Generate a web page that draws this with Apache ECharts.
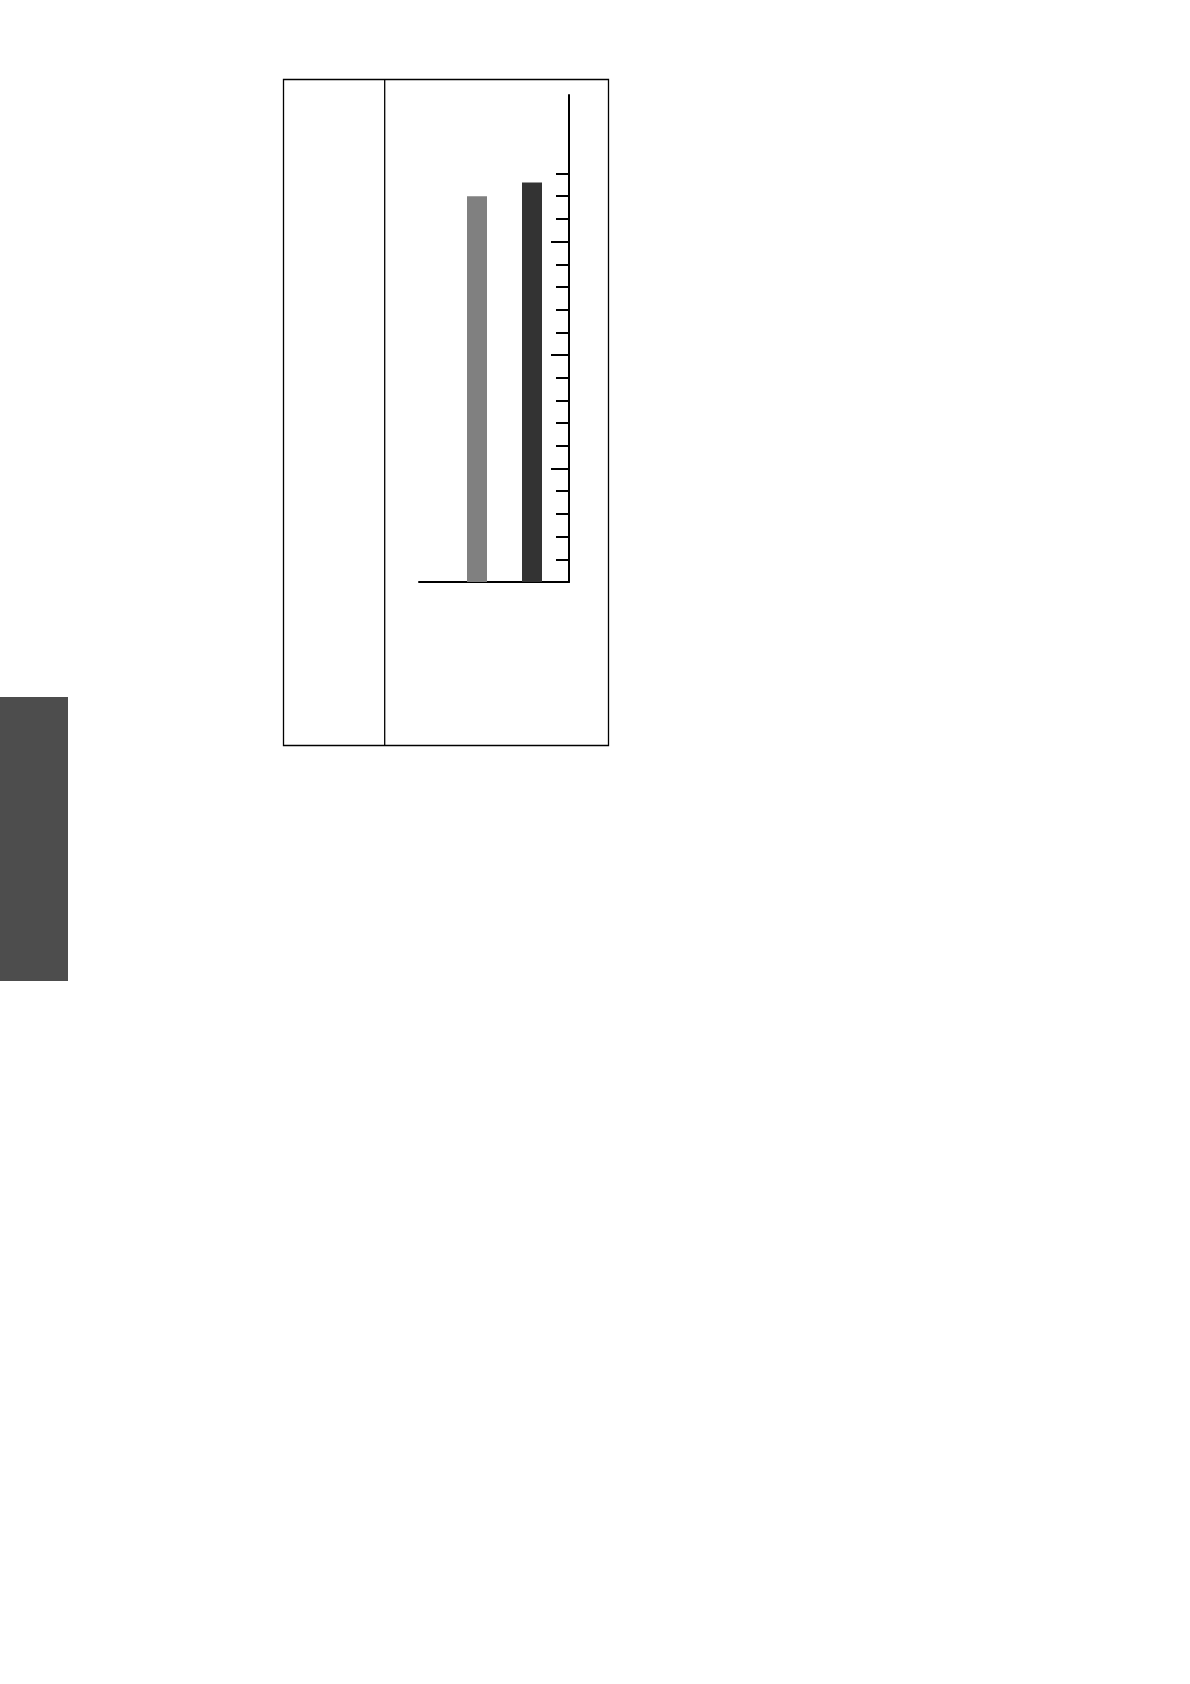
<!DOCTYPE html>
<html><head><meta charset="utf-8">
<script src="https://cdn.jsdelivr.net/npm/echarts@6/dist/echarts.min.js"></script>
<style>html,body{margin:0;padding:0;background:#fff}#c{width:1190px;height:1684px}</style>
</head><body><div id="c"></div>
<script>
const categories = ['A', 'B'];
const values = [85, 88];
const barColors = ['#808080', '#333333'];
const majorTicks = [25, 50, 75];
const minorTicks = [5, 10, 15, 20, 30, 35, 40, 45, 55, 60, 65, 70, 80, 85, 90];
const axisMax = 107.3;

const chart = echarts.init(document.getElementById('c'), null, {renderer: 'canvas'});
chart.setOption({
  backgroundColor: '#ffffff',
  animation: false,
  grid: [
    {left: 419, top: 95, width: 150, height: 487},
    {left: 449.5, top: 95, width: 110, height: 487}
  ],
  xAxis: [
    {gridIndex: 0, type: 'category', data: [''], axisLine: {lineStyle: {color: '#000', width: 2}},
     axisTick: {show: false}, axisLabel: {show: false}, splitLine: {show: false}},
    {gridIndex: 1, type: 'category', data: categories, show: false}
  ],
  yAxis: [
    {gridIndex: 0, type: 'value', position: 'right', min: 0, max: axisMax,
     axisLine: {show: true, lineStyle: {color: '#000', width: 2}},
     axisTick: {show: true, inside: true, length: 18, lineStyle: {color: '#000', width: 2}, customValues: majorTicks},
     axisLabel: {show: false}, splitLine: {show: false}},
    {gridIndex: 0, type: 'value', position: 'right', min: 0, max: axisMax,
     axisLine: {show: false},
     axisTick: {show: true, inside: true, length: 13, lineStyle: {color: '#000', width: 2}, customValues: minorTicks},
     axisLabel: {show: false}, splitLine: {show: false}},
    {gridIndex: 1, type: 'value', min: 0, max: axisMax, show: false}
  ],
  series: [{
    type: 'bar', xAxisIndex: 1, yAxisIndex: 2, barWidth: 20,
    data: values.map((v, i) => ({value: v, itemStyle: {color: barColors[i]}}))
  }],
  graphic: [
    {type: 'rect', shape: {x: 283.5, y: 79.5, width: 325, height: 666}, style: {fill: 'none', stroke: '#000', lineWidth: 1.3}},
    {type: 'line', shape: {x1: 384.7, y1: 79.5, x2: 384.7, y2: 745.5}, style: {stroke: '#000', lineWidth: 1.3}},
    {type: 'rect', shape: {x: 0, y: 697, width: 68, height: 284}, style: {fill: '#4d4d4d'}}
  ]
});
</script></body></html>
